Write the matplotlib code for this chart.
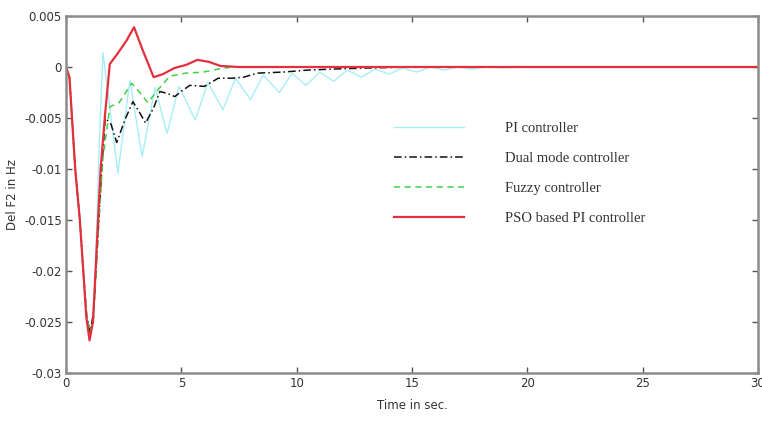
import matplotlib
matplotlib.use("Agg")
import matplotlib.pyplot as plt

# PSO based PI controller
pso_t = [0, 0.15, 0.4, 0.6, 0.75, 0.88, 1.02, 1.17, 1.39, 1.5, 1.7, 1.9, 2.2, 2.6, 2.95,
         3.3, 3.8, 4.2, 4.7, 5.2, 5.7, 6.2, 6.7, 7.5, 10, 15, 20, 25, 30]
pso_y = [0, -0.001, -0.01, -0.015, -0.02, -0.0245, -0.0268, -0.025, -0.015, -0.01, -0.0045,
         0.0003, 0.0012, 0.0025, 0.0039, 0.0018, -0.001, -0.0007, -0.0001, 0.0002, 0.0007,
         0.0005, 0.0001, 0.0, 0, 0, 0, 0, 0]

# Dual mode controller
dual_t = [0, 0.15, 0.4, 0.6, 0.75, 0.9, 1.05, 1.2, 1.4, 1.55, 1.7, 1.95, 2.2, 2.55, 2.9,
          3.2, 3.45, 3.8, 4.07, 4.4, 4.72, 5.05, 5.37, 6.0, 6.6, 7.2, 7.7, 8.3, 9.4, 10.5,
          11.6, 13, 15, 30]
dual_y = [0, -0.001, -0.01, -0.015, -0.02, -0.0245, -0.026, -0.024, -0.016, -0.01, -0.005,
          -0.0056, -0.0074, -0.0052, -0.0034, -0.0045, -0.0055, -0.0040, -0.0024, -0.0026,
          -0.0029, -0.0023, -0.0018, -0.0019, -0.0011, -0.0011, -0.001, -0.0006, -0.0005,
          -0.0003, -0.0002, -0.0001, 0, 0]

# Fuzzy controller
fuzzy_t = [0, 0.15, 0.4, 0.6, 0.75, 0.9, 1.05, 1.2, 1.4, 1.6, 1.9, 2.3, 2.85, 3.2, 3.55,
           4.0, 4.5, 5.2, 5.95, 6.6, 7.2, 10, 30]
fuzzy_y = [0, -0.001, -0.01, -0.015, -0.02, -0.0245, -0.026, -0.0245, -0.016, -0.009, -0.0039,
           -0.0035, -0.0016, -0.0025, -0.0035, -0.0022, -0.0009, -0.0006, -0.0005, -0.0002,
           0, 0, 0]

# PI controller
pi_t = [0, 0.15, 0.4, 0.6, 0.75, 0.9, 1.08, 1.25, 1.42, 1.6, 1.9, 2.25, 2.77, 3.3, 3.86,
        4.38, 4.9, 5.6, 6.15, 6.8, 7.35, 8.0, 8.55, 9.25, 9.8, 10.4, 11.0, 11.6, 12.2, 12.8,
        13.4, 14.0, 14.6, 15.2, 15.8, 16.4, 17.0, 17.6, 18.2, 19, 20, 30]
pi_y = [0, -0.001, -0.01, -0.015, -0.02, -0.0245, -0.026, -0.022, -0.009, 0.0014, -0.004,
        -0.0104, -0.0013, -0.0088, -0.0020, -0.0065, -0.0019, -0.0052, -0.0015, -0.0042,
        -0.0011, -0.0032, -0.0008, -0.0025, -0.0006, -0.0018, -0.0005, -0.0014, -0.0003,
        -0.0010, -0.0002, -0.0007, -0.0001, -0.0005, 0, -0.0003, 0, -0.0002, 0, -0.0001, 0, 0]

xticks = [0, 5, 10, 15, 20, 25, 30]
yticks = [0.005, 0, -0.005, -0.01, -0.015, -0.02, -0.025, -0.03]
ytick_labels = ["0.005", "0", "-0.005", "-0.01", "-0.015", "-0.02", "-0.025", "-0.03"]

fig = plt.figure(figsize=(7.62, 4.21), dpi=100)
ax = fig.add_axes([0.0866, 0.114, 0.9082, 0.848])

ax.plot(pi_t, pi_y, color="#a8eef6", lw=1.0, label="PI controller")
ax.plot(dual_t, dual_y, color="#111111", lw=1.1, dashes=[5, 2, 1, 2], label="Dual mode controller")
ax.plot(fuzzy_t, fuzzy_y, color="#3fd24a", lw=1.1, dashes=[4, 3], label="Fuzzy controller")
ax.plot(pso_t, pso_y, color="#e4303c", lw=1.6, label="PSO based PI controller")

ax.set_xlim(0, 30)
ax.set_ylim(-0.03, 0.005)
ax.set_xticks(xticks)
ax.set_yticks(yticks)
ax.set_yticklabels(ytick_labels)

for lbl in ax.get_xticklabels() + ax.get_yticklabels():
    lbl.set_fontsize(8.5)
    lbl.set_color("#333333")

ax.tick_params(direction="in", top=True, right=True, length=4, width=1, color="#555555", pad=3)
for sp in ax.spines.values():
    sp.set_color("#8c8c8c")
    sp.set_linewidth(1.8)

ax.set_xlabel("Time in sec.", fontsize=8.5, color="#333333", labelpad=6)
ax.set_ylabel("Del F2 in Hz", fontsize=8.5, color="#333333", labelpad=4)

leg = ax.legend(loc="upper left", bbox_to_anchor=(0.455, 0.74), frameon=False,
                prop={"family": "Liberation Serif", "size": 10.5},
                handlelength=4.8, handletextpad=2.8, labelspacing=1.15)
for t in leg.get_texts():
    t.set_color("#333333")

fig.savefig("out.png", dpi=100)
